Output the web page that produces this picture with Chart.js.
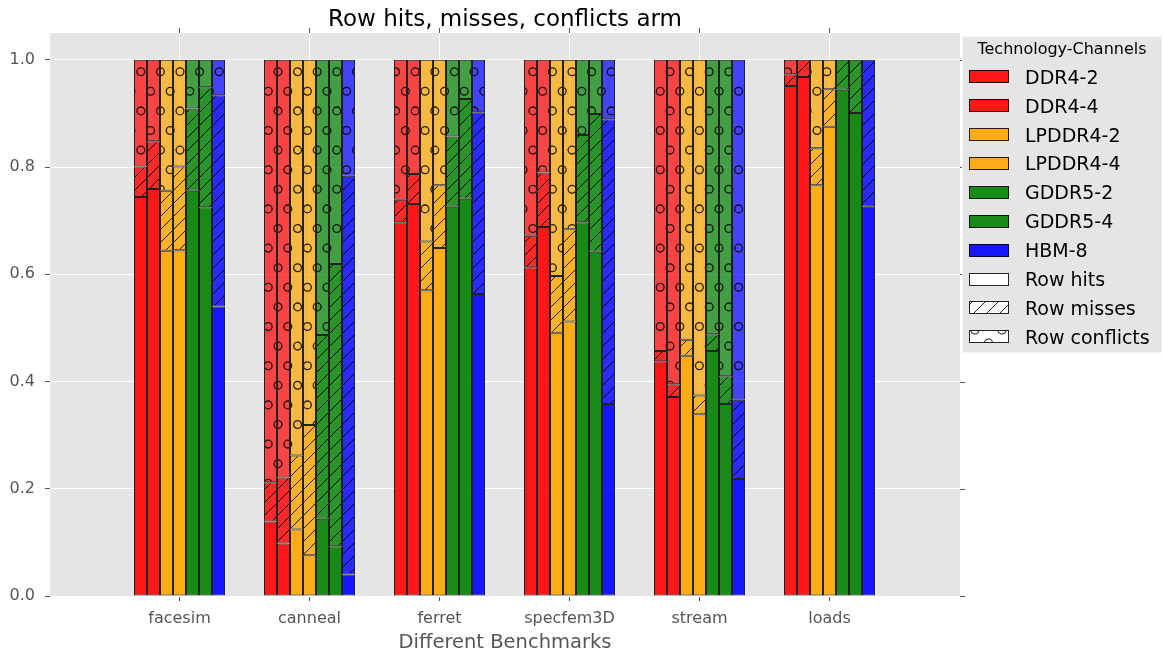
<!DOCTYPE html>
<html>
<head>
<meta charset="utf-8">
<script src="https://cdn.jsdelivr.net/npm/chart.js@4.4.1/dist/chart.umd.min.js"></script>
<style>
  html, body { margin: 0; padding: 0; background: #fff; }
  #wrap { width: 1164px; height: 653px; }
</style>
</head>
<body>
<div id="wrap"><canvas id="chart" width="1164" height="653"></canvas></div>
<script>
// Benchmarks on the x axis, memory technologies as grouped stacked bars.
const benchmarks = ['facesim', 'canneal', 'ferret', 'specfem3D', 'stream', 'loads'];
const technologies = ['DDR4-2', 'DDR4-4', 'LPDDR4-2', 'LPDDR4-4', 'GDDR5-2', 'GDDR5-4', 'HBM-8'];
const techColors = [[255, 0, 0], [255, 0, 0], [255, 165, 0], [255, 165, 0], [0, 128, 0], [0, 128, 0], [0, 0, 255]];
const yTicks = [0, 0.2, 0.4, 0.6, 0.8, 1.0];
const accessKinds = ['Row hits', 'Row misses', 'Row conflicts'];

// Fraction of accesses per technology (rows) and benchmark (columns).
const rowHits = [
  [0.744, 0.139, 0.697, 0.613, 0.438, 0.951],
  [0.759, 0.098, 0.731, 0.688, 0.371, 0.968],
  [0.644, 0.124, 0.570, 0.491, 0.448, 0.766],
  [0.645, 0.076, 0.649, 0.512, 0.339, 0.875],
  [0.756, 0.144, 0.726, 0.697, 0.457, 0.944],
  [0.725, 0.093, 0.741, 0.642, 0.358, 0.901],
  [0.540, 0.040, 0.563, 0.358, 0.218, 0.726]
];
const rowMisses = [
  [0.057, 0.073, 0.042, 0.059, 0.019, 0.022],
  [0.089, 0.123, 0.056, 0.102, 0.024, 0.032],
  [0.112, 0.138, 0.091, 0.106, 0.030, 0.069],
  [0.156, 0.243, 0.117, 0.172, 0.035, 0.070],
  [0.153, 0.343, 0.131, 0.163, 0.031, 0.056],
  [0.224, 0.526, 0.186, 0.257, 0.052, 0.099],
  [0.394, 0.744, 0.339, 0.531, 0.148, 0.274]
];
const rowConflicts = [
  [0.199, 0.788, 0.261, 0.328, 0.543, 0.027],
  [0.152, 0.779, 0.213, 0.210, 0.605, 0.000],
  [0.244, 0.738, 0.339, 0.403, 0.522, 0.165],
  [0.199, 0.681, 0.234, 0.316, 0.626, 0.055],
  [0.091, 0.513, 0.143, 0.140, 0.512, 0.000],
  [0.051, 0.381, 0.073, 0.101, 0.590, 0.000],
  [0.066, 0.216, 0.098, 0.111, 0.634, 0.000]
];

const FONT = '"DejaVu Sans", "Liberation Sans", sans-serif';
const EDGE = 'rgba(0,0,0,0.85)';
const HATCH = 'rgba(0,0,0,0.85)';

function rgba(c, a) { return `rgba(${c[0]},${c[1]},${c[2]},${a})`; }

// Diagonal "/" hatch tile.
function missPattern(fill) {
  const s = 13;
  const cv = document.createElement('canvas');
  cv.width = s; cv.height = s;
  const g = cv.getContext('2d');
  g.fillStyle = fill; g.fillRect(0, 0, s, s);
  g.strokeStyle = HATCH; g.lineWidth = 1;
  g.beginPath();
  for (const o of [-s, 0, s]) { g.moveTo(o, s); g.lineTo(o + s, 0); }
  g.stroke();
  return g.createPattern(cv, 'repeat');
}

// Staggered small-circle hatch tile.
function conflictPattern(fill) {
  const step = 19.6, w = 98, h = 196;
  const cv = document.createElement('canvas');
  cv.width = w; cv.height = h;
  const g = cv.getContext('2d');
  g.fillStyle = fill; g.fillRect(0, 0, w, h);
  g.strokeStyle = HATCH; g.lineWidth = 1.3;
  for (let r = -1; r <= 10; r++) {
    const y = 12.9 + r * step;
    const off = (((r % 2) + 2) % 2 === 0) ? 13.4 : 3.6;
    for (let k = -1; k <= 5; k++) {
      const x = off + k * step;
      g.beginPath(); g.arc(x, y, 3.9, 0, Math.PI * 2); g.stroke();
    }
  }
  return g.createPattern(cv, 'repeat');
}

const datasets = [];
technologies.forEach((tech, t) => {
  const col = techColors[t];
  const parts = [
    { kind: accessKinds[0], values: rowHits[t], bg: rgba(col, 0.9) },
    { kind: accessKinds[1], values: rowMisses[t], bg: missPattern(rgba(col, 0.82)) },
    { kind: accessKinds[2], values: rowConflicts[t], bg: conflictPattern(rgba(col, 0.7)) }
  ];
  parts.forEach(p => {
    datasets.push({
      label: tech + ' ' + p.kind,
      data: benchmarks.map((b, i) => ({ x: i, y: p.values[i] })),
      backgroundColor: p.bg,
      borderColor: EDGE,
      borderWidth: 1,
      borderSkipped: false,
      stack: tech,
      categoryPercentage: 0.7,
      barPercentage: 1.0
    });
  });
});

// Gray panel behind the plot.
const panelPlugin = {
  id: 'panel',
  beforeDraw(chart) {
    const { ctx, chartArea: a } = chart;
    ctx.save();
    ctx.fillStyle = '#E5E5E5';
    ctx.fillRect(a.left, a.top, a.right - a.left, a.bottom - a.top);
    ctx.restore();
  }
};

// Title, mirrored tick marks and the legend panel.
const decorPlugin = {
  id: 'decor',
  afterDraw(chart) {
    const { ctx, chartArea: a, scales } = chart;
    ctx.save();
    // title
    ctx.fillStyle = '#000';
    ctx.font = '23px ' + FONT;
    ctx.textAlign = 'center';
    ctx.textBaseline = 'alphabetic';
    ctx.fillText('Row hits, misses, conflicts arm', (a.left + a.right) / 2, 26);

    // top and right tick marks
    ctx.strokeStyle = '#555';
    ctx.lineWidth = 1;
    ctx.beginPath();
    benchmarks.forEach((b, i) => {
      const x = Math.round(scales.x.getPixelForValue(i)) + 0.5;
      ctx.moveTo(x, a.top); ctx.lineTo(x, a.top - 5);
    });
    yTicks.forEach(v => {
      const y = Math.round(scales.y.getPixelForValue(v)) + 0.5;
      ctx.moveTo(a.right, y); ctx.lineTo(a.right + 5, y);
    });
    ctx.stroke();

    // legend
    const lx = 962, ly = 36, lw = 200, lh = 317;
    ctx.fillStyle = '#E5E5E5';
    ctx.fillRect(lx, ly, lw, lh);
    ctx.strokeStyle = '#f4f4f4';
    ctx.strokeRect(lx + 0.5, ly + 0.5, lw - 1, lh - 1);
    ctx.fillStyle = '#000';
    ctx.font = '16px ' + FONT;
    ctx.textAlign = 'center';
    ctx.fillText('Technology-Channels', lx + lw / 2, 54);

    const entries = technologies.map((tech, t) => ({ label: tech, fill: rgba(techColors[t], 0.9) }));
    entries.push({ label: accessKinds[0], fill: '#fff' });
    entries.push({ label: accessKinds[1], fill: missPattern('#fff') });
    entries.push({ label: accessKinds[2], fill: '#fff', rings: true });

    ctx.font = '19px ' + FONT;
    ctx.textAlign = 'left';
    entries.forEach((e, i) => {
      const cy = 76.7 + i * 28.9;
      const sx = 969, sy = Math.round(cy - 6.5);
      ctx.fillStyle = e.fill;
      ctx.fillRect(sx, sy, 40, 13);
      if (e.rings) {
        // circle hatch sample: rings cut by the swatch edges
        ctx.save();
        ctx.beginPath(); ctx.rect(sx, sy, 40, 13); ctx.clip();
        ctx.strokeStyle = HATCH; ctx.lineWidth = 1.1;
        [[sx + 6, sy], [sx + 33, sy], [sx + 19.5, sy + 13]].forEach(([x, y]) => {
          ctx.beginPath(); ctx.arc(x, y, 4, 0, Math.PI * 2); ctx.stroke();
        });
        ctx.restore();
      }
      ctx.strokeStyle = EDGE;
      ctx.strokeRect(sx + 0.5, sy + 0.5, 39, 12);
      ctx.fillStyle = '#000';
      ctx.fillText(e.label, 1025, cy + 7);
    });
    ctx.restore();
  }
};

new Chart(document.getElementById('chart'), {
  type: 'bar',
  data: { datasets },
  options: {
    responsive: false,
    animation: false,
    devicePixelRatio: 1,
    layout: { padding: { left: 0, right: 204, top: 33, bottom: 0 } },
    plugins: {
      legend: { display: false },
      tooltip: { enabled: false },
      title: { display: false }
    },
    scales: {
      x: {
        type: 'linear',
        // 130 px per benchmark; half-pixel shift keeps bar edges on whole pixels
        min: -0.99615,
        max: 6.00385,
        offset: false,
        afterFit(s) { s.height = 57; },
        afterBuildTicks(s) { s.ticks = benchmarks.map((b, i) => ({ value: i })); },
        border: { display: false },
        grid: { offset: false, color: '#ffffff', lineWidth: 1, tickColor: '#555', tickLength: 5, drawTicks: true },
        ticks: {
          autoSkip: false, maxRotation: 0, color: '#555', padding: 8,
          font: { family: FONT, size: 16 },
          callback: v => benchmarks[v] !== undefined ? benchmarks[v] : ''
        },
        title: {
          display: true, text: 'Different Benchmarks', color: '#555',
          font: { family: FONT, size: 19.5, lineHeight: 1.0 }, padding: { top: 0, bottom: 0.5 }
        }
      },
      y: {
        min: 0,
        max: 1.05,
        stacked: true,
        afterFit(s) { s.width = 50; },
        afterBuildTicks(s) { s.ticks = yTicks.map(v => ({ value: v })); },
        border: { display: false },
        grid: { color: '#ffffff', lineWidth: 1, tickColor: '#555', tickLength: 5, drawTicks: true },
        ticks: {
          color: '#555', padding: 10,
          font: { family: FONT, size: 16 },
          callback: v => Number(v).toFixed(1)
        }
      }
    }
  },
  plugins: [panelPlugin, decorPlugin]
});
</script>
</body>
</html>
